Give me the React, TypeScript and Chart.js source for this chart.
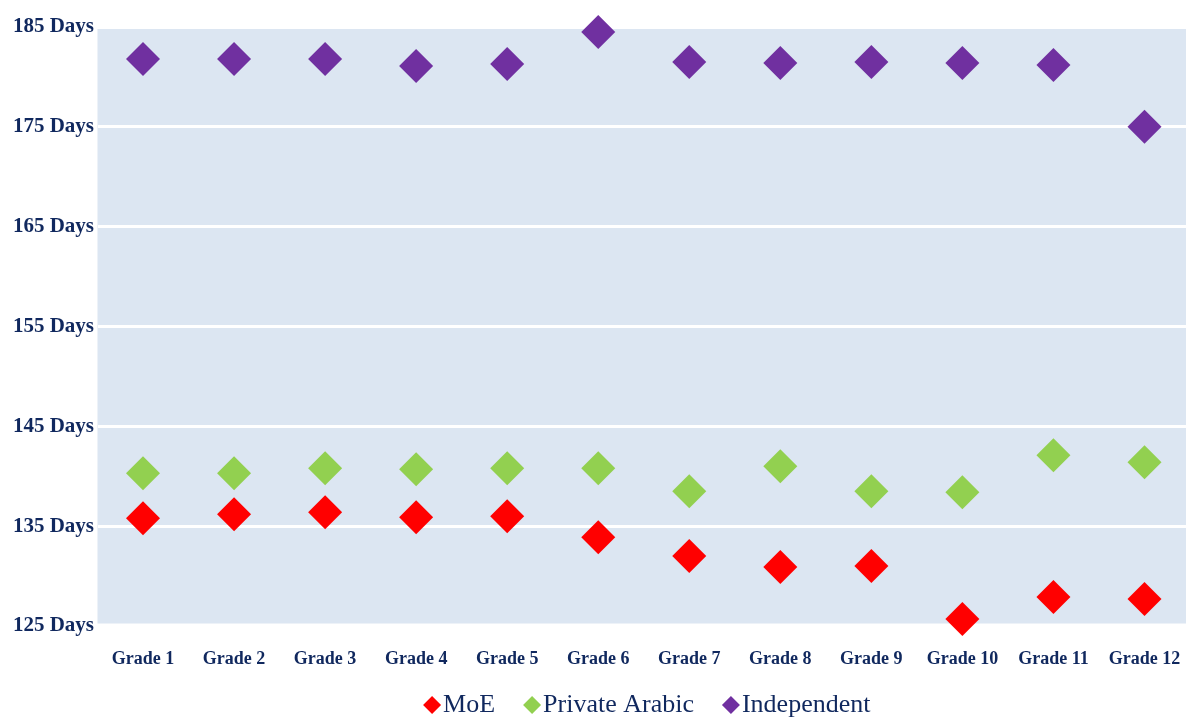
import { useEffect, useRef } from 'react';
import { Chart, registerables } from 'chart.js';

Chart.register(...registerables);

const grades = ['Grade 1', 'Grade 2', 'Grade 3', 'Grade 4', 'Grade 5', 'Grade 6', 'Grade 7', 'Grade 8', 'Grade 9', 'Grade 10', 'Grade 11', 'Grade 12'];
const moeDays = [135.8, 136.2, 136.4, 135.9, 136.0, 133.9, 132.0, 130.9, 131.0, 125.7, 127.9, 127.7];
const privateArabicDays = [140.3, 140.3, 140.8, 140.7, 140.8, 140.8, 138.5, 141.0, 138.5, 138.4, 142.1, 141.4];
const independentDays = [181.8, 181.8, 181.8, 181.1, 181.3, 184.5, 181.5, 181.4, 181.5, 181.4, 181.2, 175.0];
const seriesNames = ['MoE', 'Private Arabic', 'Independent'];
const seriesColors = ['#FF0000', '#92D050', '#7030A0'];
const yTickValues = [125, 135, 145, 155, 165, 175, 185];

const TEXT_COLOR = '#10285E';
const SERIF = '"Liberation Serif", "Times New Roman", serif';

const plotBackground = {
  id: 'plotBackground',
  beforeDraw(chart: any) {
    const { ctx, chartArea } = chart;
    ctx.save();
    ctx.fillStyle = '#DCE6F2';
    ctx.fillRect(chartArea.left, chartArea.top + 2, chartArea.right - chartArea.left, chartArea.bottom - chartArea.top - 4.5);
    ctx.restore();
  },
};

const customLegend = {
  id: 'customLegend',
  afterDraw(chart: any) {
    const { ctx, chartArea } = chart;
    const datasets = chart.data.datasets;
    const r = 9;
    const markerGap = 2;
    const itemGap = 28;
    const y = 705;
    ctx.save();
    ctx.font = `26px ${SERIF}`;
    ctx.textBaseline = 'middle';
    ctx.textAlign = 'left';
    const widths = datasets.map((d: any) => ctx.measureText(d.label).width);
    const total = widths.reduce((a: number, w: number) => a + 2 * r + markerGap + w, 0) + itemGap * (datasets.length - 1);
    let x = (chartArea.left + chartArea.right) / 2 + 3 - total / 2;
    datasets.forEach((d: any, i: number) => {
      const cx = x + r;
      ctx.fillStyle = d.backgroundColor;
      ctx.beginPath();
      ctx.moveTo(cx, y - r);
      ctx.lineTo(cx + r, y);
      ctx.lineTo(cx, y + r);
      ctx.lineTo(cx - r, y);
      ctx.closePath();
      ctx.fill();
      ctx.fillStyle = TEXT_COLOR;
      ctx.fillText(d.label, x + 2 * r + markerGap, y);
      x += 2 * r + markerGap + widths[i] + itemGap;
    });
    ctx.restore();
  },
};

export default function App() {
  const canvasRef = useRef<HTMLCanvasElement | null>(null);

  useEffect(() => {
    document.body.style.margin = '0';
    document.body.style.overflow = 'hidden';
    const canvas = canvasRef.current;
    if (!canvas) return;
    const values = [moeDays, privateArabicDays, independentDays];
    const chart = new Chart(canvas, {
      type: 'line',
      data: {
        labels: grades,
        datasets: seriesNames.map((name, i) => ({
          label: name,
          data: values[i],
          showLine: false,
          backgroundColor: seriesColors[i],
          borderColor: seriesColors[i],
          pointStyle: 'rectRot',
          pointRadius: 17,
          pointHoverRadius: 17,
          pointBorderWidth: 0,
          clip: false,
        })),
      },
      options: {
        animation: false,
        responsive: false,
        devicePixelRatio: 1,
        events: [],
        layout: { autoPadding: false, padding: { top: 27, right: 2, left: 0, bottom: 0 } },
        plugins: {
          legend: { display: false },
          tooltip: { enabled: false },
        },
        scales: {
          x: {
            offset: true,
            grid: { display: false, drawTicks: false },
            border: { display: false },
            ticks: {
              color: TEXT_COLOR,
              font: { family: SERIF, size: 18, weight: 'bold', lineHeight: 66 / 18 },
              padding: 0,
              maxRotation: 0,
              autoSkip: false,
            },
            afterFit(scale: any) {
              scale.height = 104;
            },
          },
          y: {
            min: 125,
            max: 185,
            grid: {
              drawTicks: false,
              lineWidth: 3,
              color: (c: any) => (c.tick && (c.tick.value === 125 || c.tick.value === 185) ? 'rgba(0,0,0,0)' : '#FFFFFF'),
            },
            border: { display: false },
            afterBuildTicks(scale: any) {
              scale.ticks = yTickValues.map((v) => ({ value: v }));
            },
            ticks: {
              color: TEXT_COLOR,
              font: { family: SERIF, size: 21, weight: 'bold' },
              padding: 3.5,
              callback: (v: any) => `${v} Days`,
            },
            afterFit(scale: any) {
              scale.width = 97.5;
            },
          },
        },
      },
      plugins: [plotBackground, customLegend],
    } as any);
    return () => chart.destroy();
  }, []);

  return (
    <div style={{ width: 1192, height: 730 }}>
      <canvas ref={canvasRef} width={1192} height={730} style={{ display: 'block' }} />
    </div>
  );
}
